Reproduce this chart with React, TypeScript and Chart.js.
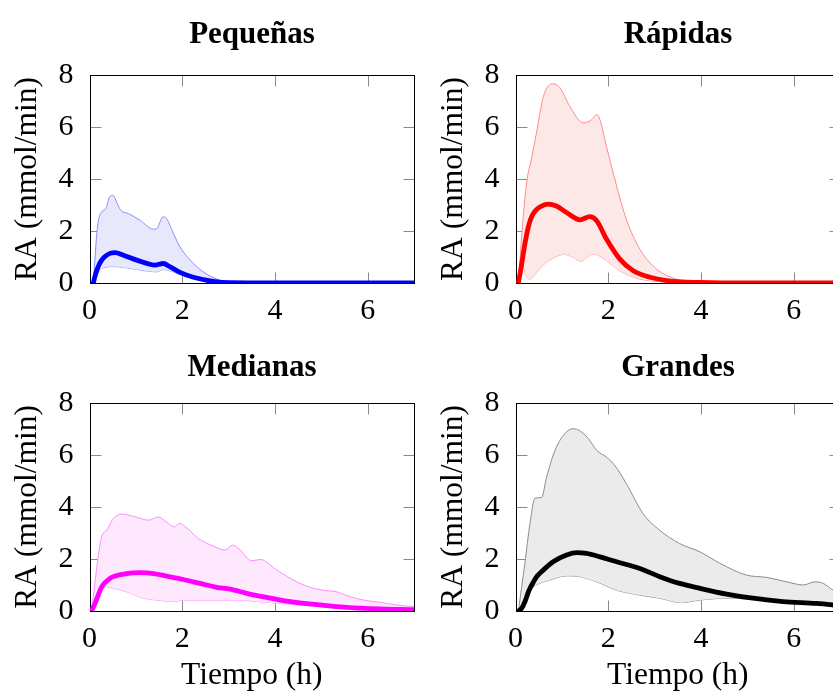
import React, { useEffect, useRef } from 'react';
import { Chart, registerables } from 'chart.js';

Chart.register(...registerables);

// ---------- shared axis data ----------
const xTickValues = [0, 2, 4, 6];
const yTickValues = [0, 2, 4, 6, 8];
const xTitleText = 'Tiempo (h)';
const yTitleText = 'RA (mmol/min)';
const titles = ['Pequeñas', 'Rápidas', 'Medianas', 'Grandes'];

// ---------- Pequeñas ----------
const pequenasMeanT = [0.08, 0.13, 0.19, 0.25, 0.32, 0.44, 0.55, 0.73, 1.02, 1.41, 1.59, 1.73, 1.95, 2.24, 2.67, 3.03, 4, 7];
const pequenasMean = [0, 0.35, 0.65, 0.85, 1.0, 1.14, 1.17, 1.07, 0.88, 0.69, 0.75, 0.63, 0.41, 0.22, 0.06, 0.01, 0, 0];
const pequenasUpperT = [0.08, 0.17, 0.26, 0.35, 0.43, 0.51, 0.58, 0.67, 0.84, 1.09, 1.38, 1.45, 1.58, 1.66, 1.81, 1.95, 2.17, 2.45, 2.81, 3.17, 4, 7];
const pequenasUpper = [0, 2.16, 2.73, 2.86, 3.31, 3.37, 3.12, 2.80, 2.67, 2.41, 2.07, 2.09, 2.54, 2.48, 1.90, 1.39, 0.88, 0.43, 0.11, 0.01, 0, 0];
const pequenasLowerT = [0.08, 0.26, 0.51, 0.73, 1.09, 1.45, 1.59, 1.73, 1.95, 2.31, 2.67, 3.1, 4, 7];
const pequenasLower = [0, 0.56, 0.63, 0.60, 0.50, 0.43, 0.52, 0.47, 0.34, 0.18, 0.05, 0.01, 0, 0];

// ---------- Rápidas ----------
const rapidasMeanT = [0.06, 0.12, 0.2, 0.28, 0.36, 0.45, 0.55, 0.70, 0.88, 1.10, 1.39, 1.60, 1.75, 1.96, 2.25, 2.54, 2.90, 3.40, 3.97, 5, 7];
const rapidasMean = [0, 0.6, 1.5, 2.2, 2.6, 2.82, 2.95, 3.03, 2.96, 2.71, 2.43, 2.55, 2.39, 1.69, 0.92, 0.47, 0.22, 0.06, 0.02, 0, 0];
const rapidasUpperT = [0.06, 0.16, 0.25, 0.34, 0.45, 0.60, 0.81, 0.96, 1.17, 1.46, 1.64, 1.75, 1.82, 1.96, 2.18, 2.39, 2.68, 3.04, 3.47, 3.97, 5, 7];
const rapidasUpper = [0, 2.45, 4.0, 4.75, 5.77, 7.18, 7.66, 7.50, 6.79, 6.16, 6.28, 6.48, 6.28, 5.26, 3.73, 2.45, 1.30, 0.54, 0.15, 0.03, 0, 0];
const rapidasLowerT = [0.06, 0.15, 0.22, 0.31, 0.45, 0.6, 0.85, 1.03, 1.24, 1.42, 1.55, 1.67, 1.8, 1.96, 2.25, 2.68, 3.26, 4, 7];
const rapidasLower = [0, 0.75, 0.3, 0.15, 0.4, 0.7, 1.0, 1.1, 1.0, 0.83, 1.0, 1.12, 1.05, 0.86, 0.47, 0.15, 0.04, 0, 0];

// ---------- Medianas ----------
const medianasMeanT = [0.04, 0.12, 0.2, 0.27, 0.35, 0.43, 0.51, 0.80, 1.09, 1.38, 1.66, 2.02, 2.38, 2.74, 3.03, 3.39, 3.82, 4.25, 4.83, 5.55, 6.28, 7.0];
const medianasMean = [0, 0.3, 0.68, 0.95, 1.12, 1.24, 1.32, 1.44, 1.47, 1.44, 1.34, 1.21, 1.06, 0.91, 0.84, 0.68, 0.52, 0.38, 0.26, 0.14, 0.08, 0.05];
const medianasUpperT = [0.04, 0.26, 0.37, 0.51, 0.69, 0.94, 1.27, 1.48, 1.66, 1.84, 1.93, 2.02, 2.35, 2.67, 2.92, 3.09, 3.24, 3.50, 3.68, 4.04, 4.47, 4.83, 5.12, 5.33, 5.55, 5.91, 6.28, 6.63, 7.0];
const medianasUpper = [0, 2.85, 3.10, 3.55, 3.72, 3.64, 3.49, 3.61, 3.42, 3.23, 3.36, 3.30, 2.78, 2.49, 2.34, 2.53, 2.36, 1.93, 1.98, 1.57, 1.12, 0.87, 0.78, 0.74, 0.59, 0.42, 0.33, 0.23, 0.17];
const medianasLowerT = [0.04, 0.33, 0.51, 0.80, 1.16, 1.45, 1.81, 2.02, 2.52, 3.10, 3.68, 4.11, 4.83, 5.55, 6.28, 7.0];
const medianasLower = [0, 0.93, 0.87, 0.74, 0.49, 0.42, 0.36, 0.42, 0.42, 0.42, 0.36, 0.29, 0.19, 0.10, 0.04, 0.01];

// ---------- Grandes ----------
const grandesMeanT = [0.06, 0.13, 0.20, 0.28, 0.38, 0.47, 0.56, 0.81, 1.10, 1.32, 1.53, 1.82, 2.18, 2.68, 3.11, 3.54, 3.98, 4.55, 5.12, 5.77, 6.49, 6.85, 7];
const grandesMean = [0, 0.1, 0.35, 0.75, 1.1, 1.35, 1.51, 1.89, 2.15, 2.24, 2.21, 2.08, 1.89, 1.63, 1.32, 1.06, 0.87, 0.65, 0.49, 0.36, 0.29, 0.23, 0.2];
const grandesUpperT = [0.06, 0.20, 0.31, 0.42, 0.56, 0.67, 0.85, 1.06, 1.24, 1.38, 1.57, 1.75, 1.96, 2.14, 2.39, 2.75, 3.11, 3.54, 3.98, 4.41, 4.98, 5.42, 5.85, 6.21, 6.46, 6.64, 6.85, 7.0];
const grandesUpper = [0, 1.83, 3.36, 4.34, 4.36, 5.15, 6.17, 6.81, 7.0, 6.93, 6.62, 6.17, 5.91, 5.59, 4.89, 3.74, 3.10, 2.59, 2.27, 1.83, 1.38, 1.29, 1.12, 1.00, 1.12, 1.06, 0.80, 0.7];
const grandesLowerT = [0.06, 0.24, 0.45, 0.74, 1.10, 1.38, 1.75, 2.18, 2.68, 3.11, 3.58, 3.98, 4.55, 5.12, 5.77, 6.49, 6.85, 7];
const grandesLower = [0, 0.68, 1.0, 1.19, 1.35, 1.32, 1.12, 0.80, 0.61, 0.49, 0.32, 0.42, 0.49, 0.45, 0.33, 0.24, 0.19, 0.17];

const FONT = "'Liberation Serif', 'Times New Roman', serif";

type Panel = {
  title: string;
  meanT: number[]; mean: number[];
  upperT: number[]; upper: number[];
  lowerT: number[]; lower: number[];
  color: string; band: string; fill: string;
  left: number; top: number; height: number;
  bottomRow: boolean;
};

const panels: Panel[] = [
  { title: titles[0], meanT: pequenasMeanT, mean: pequenasMean, upperT: pequenasUpperT, upper: pequenasUpper, lowerT: pequenasLowerT, lower: pequenasLower,
    color: '#0000ff', band: '#8c8cff', fill: '#e8e8fc', left: 0, top: 0, height: 328, bottomRow: false },
  { title: titles[1], meanT: rapidasMeanT, mean: rapidasMean, upperT: rapidasUpperT, upper: rapidasUpper, lowerT: rapidasLowerT, lower: rapidasLower,
    color: '#ff0000', band: '#ff8c8c', fill: '#fde8e8', left: 426, top: 0, height: 328, bottomRow: false },
  { title: titles[2], meanT: medianasMeanT, mean: medianasMean, upperT: medianasUpperT, upper: medianasUpper, lowerT: medianasLowerT, lower: medianasLower,
    color: '#ff00ff', band: '#ff8cff', fill: '#fde8fd', left: 0, top: 328, height: 363, bottomRow: true },
  { title: titles[3], meanT: grandesMeanT, mean: grandesMean, upperT: grandesUpperT, upper: grandesUpper, lowerT: grandesLowerT, lower: grandesLower,
    color: '#000000', band: '#8c8c8c', fill: '#ebebeb', left: 426, top: 328, height: 363, bottomRow: true },
];

// canvas is symmetric around the plot area so the title centres over it
const CANVAS_W = 504;
const AXIS_W = 89.6;

const toPoints = (t: number[], v: number[]) => t.map((x, i) => ({ x, y: v[i] }));

const framePlugin = {
  id: 'frameTicks',
  beforeDatasetsDraw(chart: any) {
    const { ctx, chartArea: a, scales } = chart;
    const L = Math.round(a.left) + 0.5;
    const R = Math.round(a.right) + 0.5;
    const T = Math.round(a.top) + 0.5;
    const B = Math.round(a.bottom) + 0.5;
    const tl = 11;
    ctx.save();
    ctx.lineWidth = 1;
    ctx.strokeStyle = '#8a8a8a';
    ctx.beginPath();
    for (const v of xTickValues) {
      const x = Math.round(scales.x.getPixelForValue(v)) + 0.5;
      ctx.moveTo(x, B); ctx.lineTo(x, B - tl);
      ctx.moveTo(x, T); ctx.lineTo(x, T + tl);
    }
    for (const v of yTickValues) {
      const y = Math.round(scales.y.getPixelForValue(v)) + 0.5;
      ctx.moveTo(L, y); ctx.lineTo(L + tl, y);
      ctx.moveTo(R, y); ctx.lineTo(R - tl, y);
    }
    ctx.stroke();
    ctx.strokeStyle = '#000000';
    ctx.strokeRect(L, T, R - L, B - T);
    ctx.restore();
  },
};

function PanelChart({ p }: { p: Panel }) {
  const ref = useRef<HTMLCanvasElement | null>(null);
  useEffect(() => {
    if (!ref.current) return;
    const tickFont = { family: FONT, size: 30 };
    const chart = new Chart(ref.current, {
      type: 'line',
      data: {
        datasets: [
          { label: 'media', data: toPoints(p.meanT, p.mean), borderColor: p.color, borderWidth: 4.8, pointRadius: 0, fill: false, cubicInterpolationMode: 'monotone', borderCapStyle: 'round', borderJoinStyle: 'round' },
          { label: 'superior', data: toPoints(p.upperT, p.upper), borderColor: p.band, borderWidth: 1, pointRadius: 0, fill: '+1', backgroundColor: p.fill, cubicInterpolationMode: 'monotone' },
          { label: 'inferior', data: toPoints(p.lowerT, p.lower), borderColor: p.band, borderWidth: 1, pointRadius: 0, fill: false, cubicInterpolationMode: 'monotone' },
        ],
      } as any,
      options: {
        animation: false,
        responsive: false,
        maintainAspectRatio: false,
        events: [],
        layout: { padding: 0 },
        plugins: {
          legend: { display: false },
          tooltip: { enabled: false },
          title: {
            display: true,
            text: p.title,
            color: '#000',
            font: { family: FONT, size: 31, weight: 'bold', lineHeight: 1.2 },
            padding: p.bottomRow ? { top: 21.6, bottom: 15.9 } : { top: 16.4, bottom: 21.4 },
          },
        },
        scales: {
          x: {
            type: 'linear',
            min: 0,
            max: 7,
            afterBuildTicks: (s: any) => { s.ticks = xTickValues.map((v) => ({ value: v })); },
            afterFit: (s: any) => { s.height = p.bottomRow ? 80 : 45; },
            grid: { display: false },
            border: { display: false },
            ticks: { color: '#000', font: tickFont, padding: 2.5, maxRotation: 0, autoSkip: false },
            title: {
              display: p.bottomRow,
              text: xTitleText,
              color: '#000',
              font: { family: FONT, size: 31.5, lineHeight: 1.0 },
              padding: { top: 0, bottom: 0 },
            },
          },
          y: {
            type: 'linear',
            position: 'left',
            min: 0,
            max: 8,
            afterBuildTicks: (s: any) => { s.ticks = yTickValues.map((v) => ({ value: v })); },
            afterFit: (s: any) => { s.width = AXIS_W; },
            grid: { display: false },
            border: { display: false },
            ticks: { color: '#000', font: tickFont, padding: 8, autoSkip: false },
            title: {
              display: true,
              text: yTitleText,
              color: '#000',
              font: { family: FONT, size: 31.5, lineHeight: 1.2 },
              padding: { top: 9.2, bottom: 0 },
            },
          },
          // empty right-hand spacer axis, mirrors the left axis width
          yRight: {
            type: 'linear',
            position: 'right',
            min: 0,
            max: 8,
            afterFit: (s: any) => { s.width = CANVAS_W - 414; },
            grid: { display: false },
            border: { display: false },
            ticks: { display: false },
          },
        },
      } as any,
      plugins: [framePlugin],
    });
    return () => chart.destroy();
  }, [p]);
  return (
    <canvas
      ref={ref}
      width={CANVAS_W}
      height={p.height}
      style={{ position: 'absolute', left: p.left, top: p.top, width: CANVAS_W, height: p.height }}
    />
  );
}

export default function App() {
  return (
    <div style={{ position: 'fixed', left: 0, top: 0, width: 833, height: 691, overflow: 'hidden', background: '#fff' }}>
      {panels.map((p) => (
        <PanelChart key={p.title} p={p} />
      ))}
    </div>
  );
}
